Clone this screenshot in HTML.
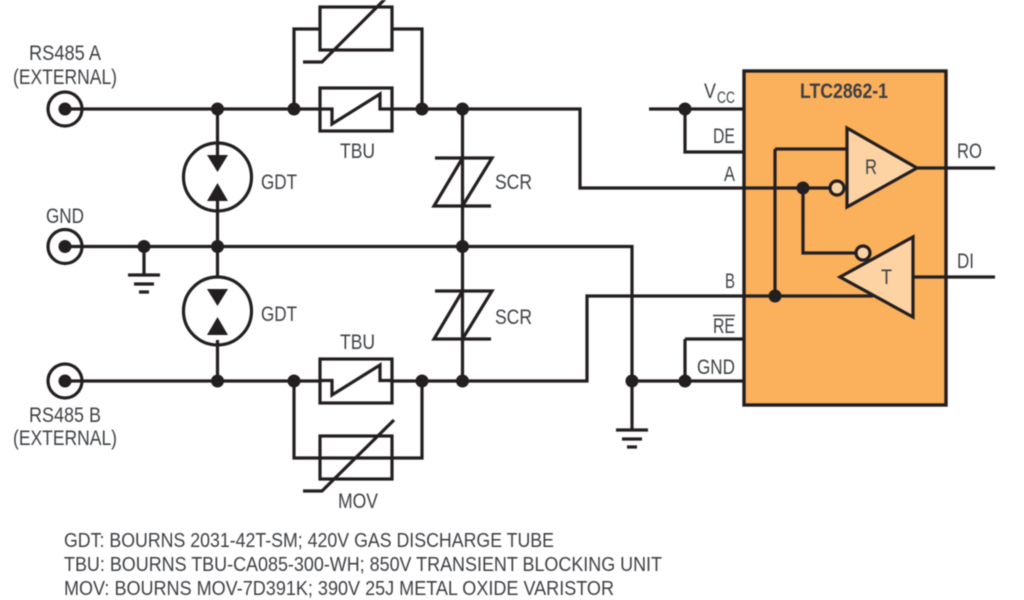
<!DOCTYPE html>
<html><head><meta charset="utf-8"><style>
html,body{margin:0;padding:0;background:#fff}
svg{display:block;filter:blur(0.4px)}
text{font-family:"Liberation Sans",sans-serif;font-size:21px;fill:#3e4044}
.w{fill:none;stroke:#231f20;stroke-width:3.2;stroke-linejoin:miter}
.d{fill:#231f20}
</style></head><body>
<svg width="1024" height="600" viewBox="0 0 1024 600" xmlns="http://www.w3.org/2000/svg">
<rect width="1024" height="600" fill="#fff"/>
<!-- chip -->
<rect x="744" y="71" width="202" height="334" fill="#fbb05c" stroke="#231f20" stroke-width="3.4"/>
<!-- wires -->
<path class="w" d="M65 109H580V188H830M65 246.500H632V381M65 381H587V296H873M462.500 109V381M217.500 109V155M217.500 201V277M217.500 340V381"/>
<path class="w" d="M294 109V29H320M392 29H422V109M294 381V458H422V381"/>
<path class="w" d="M144 246.500V275M632 381V430"/>
<path class="w" d="M649 109H743M685 109V152H743M685 339H743M685 339V381M632 381H743"/>
<path class="w" d="M775 149H847M775 149V296M803 188V253H856M917 168H995M913 277H995"/>
<!-- MOV top -->
<rect class="w" x="320" y="7" width="72" height="43" style="fill:#fff"/>
<path class="w" d="M303 62H322L386 -2"/>
<!-- TBU top -->
<rect class="w" x="320" y="88" width="72" height="43" style="fill:#fff"/>
<path class="w" d="M320 109H332V124L380 94V109H392"/>
<!-- TBU bottom -->
<rect class="w" x="320" y="359" width="72" height="44" style="fill:#fff"/>
<path class="w" d="M320 380.500H332V395L380 365V380.500H392"/>
<!-- MOV bottom -->
<rect class="w" x="320" y="436" width="72" height="43"/>
<path class="w" d="M303 491H322L394 420"/>
<!-- SCR -->
<path class="w" d="M435 158H492L462.500 206M462.500 158L434 206H491"/>
<path class="w" d="M435 291H492L462.500 339M462.500 291L434 339H491"/>
<!-- GDT -->
<circle class="w" cx="217.500" cy="177" r="34"/>
<circle class="w" cx="217.500" cy="311" r="34"/>
<path class="d" d="M207 155H228L217.500 172ZM207 201H228L217.500 183ZM207 289H228L217.500 306ZM207 335H228L217.500 317Z"/>
<!-- connectors -->
<circle class="w" cx="65" cy="109" r="17"/><circle class="d" cx="65" cy="109" r="6.500"/>
<circle class="w" cx="65" cy="246.500" r="17"/><circle class="d" cx="65" cy="246.500" r="6.500"/>
<circle class="w" cx="65" cy="381" r="17"/><circle class="d" cx="65" cy="381" r="6.500"/>
<!-- grounds -->
<path class="w" d="M128 275H160M134 284H154M139 292H149M616 430H648M622 439H642M627 447H637"/>
<!-- dots -->
<g class="d">
<circle cx="217.500" cy="109" r="6.500"/><circle cx="294" cy="109" r="6.500"/><circle cx="422" cy="109" r="6.500"/><circle cx="462.500" cy="109" r="6.500"/>
<circle cx="144" cy="246.500" r="6.500"/><circle cx="217.500" cy="246.500" r="6.500"/><circle cx="462.500" cy="246.500" r="6.500"/>
<circle cx="217.500" cy="381" r="6.500"/><circle cx="294" cy="381" r="6.500"/><circle cx="422" cy="381" r="6.500"/><circle cx="462.500" cy="381" r="6.500"/>
<circle cx="632" cy="381" r="6.500"/><circle cx="685" cy="381" r="6.500"/><circle cx="685" cy="109" r="6.500"/>
<circle cx="803" cy="188" r="6.500"/><circle cx="775" cy="296" r="6.500"/>
</g>
<!-- amplifiers -->
<path class="w" d="M847 128L917 168L847 207Z" style="fill:#fdd3a3"/>
<path class="w" d="M913 237V317L840 277Z" style="fill:#fdd3a3"/>
<circle class="w" cx="837" cy="188" r="7" style="fill:#fdd3a3"/>
<circle class="w" cx="863" cy="253" r="7" style="fill:#fdd3a3"/>
<!-- labels -->
<text x="29" y="60" textLength="72" lengthAdjust="spacingAndGlyphs">RS485 A</text>
<text x="13" y="84" textLength="104" lengthAdjust="spacingAndGlyphs">(EXTERNAL)</text>
<text x="46" y="223" textLength="38" lengthAdjust="spacingAndGlyphs">GND</text>
<text x="29" y="422" textLength="72" lengthAdjust="spacingAndGlyphs">RS485 B</text>
<text x="13" y="445" textLength="104" lengthAdjust="spacingAndGlyphs">(EXTERNAL)</text>
<text x="261" y="189" textLength="36" lengthAdjust="spacingAndGlyphs">GDT</text>
<text x="261" y="321" textLength="36" lengthAdjust="spacingAndGlyphs">GDT</text>
<text x="340" y="158" textLength="35" lengthAdjust="spacingAndGlyphs">TBU</text>
<text x="340" y="349" textLength="35" lengthAdjust="spacingAndGlyphs">TBU</text>
<text x="338" y="508" textLength="40" lengthAdjust="spacingAndGlyphs">MOV</text>
<text x="495" y="189" textLength="37" lengthAdjust="spacingAndGlyphs">SCR</text>
<text x="495" y="324" textLength="37" lengthAdjust="spacingAndGlyphs">SCR</text>
<text x="704" y="98" textLength="12" lengthAdjust="spacingAndGlyphs">V</text>
<text x="717" y="103" textLength="18" lengthAdjust="spacingAndGlyphs" style="font-size:17px">CC</text>
<text x="713" y="143" textLength="22" lengthAdjust="spacingAndGlyphs">DE</text>
<text x="724" y="181" textLength="11" lengthAdjust="spacingAndGlyphs">A</text>
<text x="725" y="288" textLength="10" lengthAdjust="spacingAndGlyphs">B</text>
<text x="713" y="333" textLength="22" lengthAdjust="spacingAndGlyphs">RE</text>
<path d="M713 315.500H735" stroke="#3e4044" stroke-width="1.500"/>
<text x="697" y="374" textLength="38" lengthAdjust="spacingAndGlyphs">GND</text>
<text x="800" y="98" textLength="88" lengthAdjust="spacingAndGlyphs" style="font-weight:bold">LTC2862-1</text>
<text x="865" y="174" textLength="12" lengthAdjust="spacingAndGlyphs">R</text>
<text x="881" y="284" textLength="11" lengthAdjust="spacingAndGlyphs">T</text>
<text x="957" y="158" textLength="25" lengthAdjust="spacingAndGlyphs">RO</text>
<text x="957" y="268" textLength="17" lengthAdjust="spacingAndGlyphs">DI</text>
<text x="64" y="547" textLength="490" lengthAdjust="spacingAndGlyphs" style="font-size:20px">GDT: BOURNS 2031-42T-SM; 420V GAS DISCHARGE TUBE</text>
<text x="64" y="571" textLength="598" lengthAdjust="spacingAndGlyphs" style="font-size:20px">TBU: BOURNS TBU-CA085-300-WH; 850V TRANSIENT BLOCKING UNIT</text>
<text x="64" y="595" textLength="550" lengthAdjust="spacingAndGlyphs" style="font-size:20px">MOV: BOURNS MOV-7D391K; 390V 25J METAL OXIDE VARISTOR</text>
</svg>
</body></html>
